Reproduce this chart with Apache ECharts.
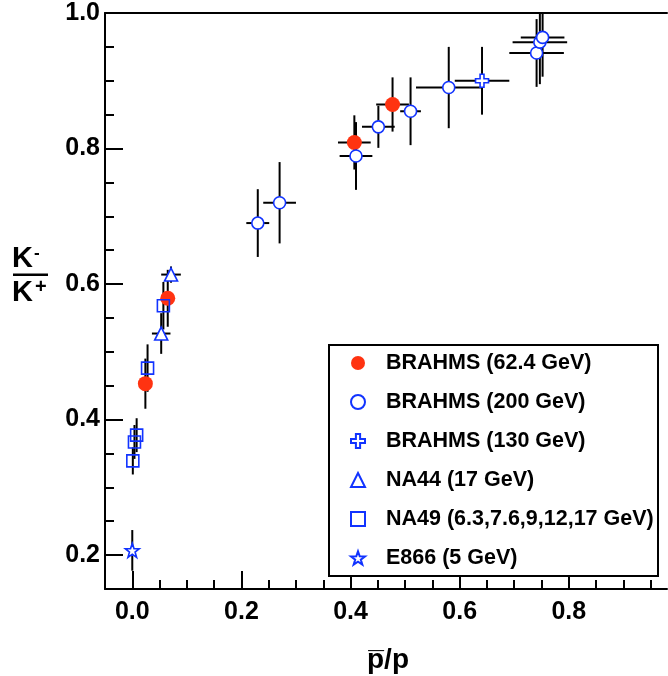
<!DOCTYPE html>
<html>
<head>
<meta charset="utf-8">
<script src="https://cdn.jsdelivr.net/npm/echarts@6/dist/echarts.min.js"></script>
<style>
  html, body { margin: 0; padding: 0; background: #fff; }
  #chart { width: 668px; height: 676px; }
</style>
</head>
<body>
<div id="chart"></div>
<script>
// K-/K+ ratio vs pbar/p

// BRAHMS 62.4 GeV
const brahms62X = [0.024, 0.065, 0.407, 0.477]
const brahms62Y = [0.453, 0.579, 0.809, 0.865]
const brahms62Ex = [0, 0, 0.03, 0.03]
const brahms62Ey = [0.037, 0.042, 0.04, 0.04]

// BRAHMS 200 GeV
const brahms200X = [0.230, 0.270, 0.410, 0.451, 0.510, 0.580, 0.741, 0.747, 0.752]
const brahms200Y = [0.690, 0.720, 0.789, 0.832, 0.855, 0.890, 0.941, 0.957, 0.964]
const brahms200Ex = [0.021, 0.03, 0.03, 0.03, 0.019, 0.06, 0.05, 0.05, 0.04]
const brahms200Ey = [0.05, 0.06, 0.05, 0.031, 0.05, 0.06, 0.05, 0.062, 0.058]

// BRAHMS 130 GeV
const brahms130X = [0.641]
const brahms130Y = [0.900]
const brahms130Ex = [0.05]
const brahms130Ey = [0.05]

// NA44 17 GeV
const na44X = [0.053, 0.071]
const na44Y = [0.527, 0.614]
const na44Ex = [0.017, 0.018]
const na44Ey = [0.03, 0.012]

// NA49 6.3 - 17 GeV
const na49X = [0.001, 0.004, 0.008, 0.028, 0.057]
const na49Y = [0.339, 0.367, 0.377, 0.476, 0.568]
const na49Ex = [0, 0, 0, 0, 0]
const na49Ey = [0.02, 0.025, 0.025, 0.035, 0.035]

// E866 5 GeV
const e866X = [0.0]
const e866Y = [0.207]
const e866Ex = [0]
const e866Ey = [0.03]

// axis ticks
const xTickLabels = [0, 0.2, 0.4, 0.6, 0.8]
const yTickLabels = [0.2, 0.4, 0.6, 0.8, 1.0]

const FONT = '"Liberation Sans", Arial, Helvetica, sans-serif'
const RED = '#ff3311'
const BLUE = '#1133ff'

// minor ticks every 0.05, skipping the major ones
const xMinor = []
for (let i = 1; i <= 19; i++) if (i % 4 !== 0) xMinor.push(+(i * 0.05).toFixed(2))
const yMinor = []
for (let i = 5; i <= 19; i++) if (i % 4 !== 0) yMinor.push(+(i * 0.05).toFixed(2))

const starPath = () => {
  const pts = []
  for (let i = 0; i < 10; i++) {
    const r = i % 2 ? 0.4 : 1
    const a = -Math.PI / 2 + i * Math.PI / 5
    pts.push((10 + 10 * r * Math.cos(a)).toFixed(2) + ',' + (10 + 10 * r * Math.sin(a)).toFixed(2))
  }
  return 'path://M' + pts.join(' L') + ' Z'
}
const crossPath = 'path://M3.5,0 L6.5,0 L6.5,3.5 L10,3.5 L10,6.5 L6.5,6.5 L6.5,10 L3.5,10 L3.5,6.5 L0,6.5 L0,3.5 L3.5,3.5 Z'

const sets = [
  { name: 'BRAHMS (62.4 GeV)', x: brahms62X, y: brahms62Y, ex: brahms62Ex, ey: brahms62Ey, symbol: 'circle', size: 15, fill: RED, stroke: RED },
  { name: 'BRAHMS (200 GeV)', x: brahms200X, y: brahms200Y, ex: brahms200Ex, ey: brahms200Ey, symbol: 'circle', size: 12, fill: '#fff', stroke: BLUE },
  { name: 'BRAHMS (130 GeV)', x: brahms130X, y: brahms130Y, ex: brahms130Ex, ey: brahms130Ey, symbol: crossPath, size: 13, fill: '#fff', stroke: BLUE },
  { name: 'NA44 (17 GeV)', x: na44X, y: na44Y, ex: na44Ex, ey: na44Ey, symbol: 'triangle', size: 13, fill: '#fff', stroke: BLUE },
  { name: 'NA49 (6.3,7.6,9,12,17 GeV)', x: na49X, y: na49Y, ex: na49Ex, ey: na49Ey, symbol: 'rect', size: 12, fill: 'rgba(255,255,255,0)', stroke: BLUE },
  { name: 'E866 (5 GeV)', x: e866X, y: e866Y, ex: e866Ex, ey: e866Ey, symbol: starPath(), size: 14, fill: '#fff', stroke: BLUE }
]

const renderErrors = (params, api) => {
  const x = api.value(0), y = api.value(1), ex = api.value(2), ey = api.value(3)
  const style = { stroke: '#000', lineWidth: 2 }
  const children = []
  if (ey > 0) {
    const a = api.coord([x, y - ey]), b = api.coord([x, y + ey])
    children.push({ type: 'line', shape: { x1: a[0], y1: a[1], x2: b[0], y2: b[1] }, style })
  }
  if (ex > 0) {
    const a = api.coord([x - ex, y]), b = api.coord([x + ex, y])
    children.push({ type: 'line', shape: { x1: a[0], y1: a[1], x2: b[0], y2: b[1] }, style })
  }
  return { type: 'group', children }
}

const errorSeries = sets.map(s => ({
  type: 'custom',
  xAxisIndex: 0,
  yAxisIndex: 0,
  clip: true,
  z: 2,
  silent: true,
  renderItem: renderErrors,
  encode: { x: 0, y: 1 },
  data: s.x.map((v, i) => [v, s.y[i], s.ex[i], s.ey[i]])
}))

const markerSeries = sets.map(s => ({
  type: 'scatter',
  name: s.name,
  xAxisIndex: 0,
  yAxisIndex: 0,
  z: 3,
  symbol: s.symbol,
  symbolSize: s.size,
  itemStyle: { color: s.fill, borderColor: s.stroke, borderWidth: s.fill === RED ? 0 : 1.6, opacity: 1 },
  emphasis: { disabled: true },
  data: s.x.map((v, i) => [v, s.y[i]])
}))

const chart = echarts.init(document.getElementById('chart'), null, { renderer: 'canvas' })

const labelStyle = { fontFamily: FONT, fontSize: 25, fontWeight: 'bold', color: '#000' }
const blackLine = { color: '#000', width: 2 }

chart.setOption({
  animation: false,
  backgroundColor: '#fff',
  textStyle: { fontFamily: FONT },
  grid: { left: 105, top: 13, width: 562, height: 576, outerBoundsMode: 'none' },
  xAxis: [
    {
      type: 'value', min: -0.05, max: 0.98, position: 'bottom',
      axisLine: { show: true, onZero: false, lineStyle: blackLine },
      axisTick: { show: true, inside: true, length: 18, customValues: xTickLabels, lineStyle: blackLine },
      axisLabel: { ...labelStyle, margin: 11, customValues: xTickLabels, formatter: v => v.toFixed(1) },
      splitLine: { show: false }
    },
    {
      type: 'value', min: -0.05, max: 0.98, position: 'bottom',
      axisLine: { show: false, onZero: false },
      axisTick: { show: true, inside: true, length: 9, customValues: xMinor, lineStyle: blackLine },
      axisLabel: { show: false },
      splitLine: { show: false }
    },
    {
      type: 'value', min: -0.05, max: 0.98, position: 'top',
      axisLine: { show: true, onZero: false, lineStyle: blackLine },
      axisTick: { show: false },
      axisLabel: { show: false },
      splitLine: { show: false }
    }
  ],
  yAxis: [
    {
      type: 'value', min: 0.15, max: 1.0, position: 'left',
      axisLine: { show: true, onZero: false, lineStyle: blackLine },
      axisTick: { show: true, inside: true, length: 18, customValues: yTickLabels, lineStyle: blackLine },
      axisLabel: { ...labelStyle, margin: 5, customValues: yTickLabels, formatter: v => v.toFixed(1) },
      splitLine: { show: false }
    },
    {
      type: 'value', min: 0.15, max: 1.0, position: 'left',
      axisLine: { show: false, onZero: false },
      axisTick: { show: true, inside: true, length: 9, customValues: yMinor, lineStyle: blackLine },
      axisLabel: { show: false },
      splitLine: { show: false }
    }
  ],
  legend: {
    orient: 'vertical',
    left: 350,
    top: 351,
    padding: 0,
    itemWidth: 14,
    itemHeight: 14,
    itemGap: 15,
    selectedMode: false,
    z: 5,
    data: sets.map(s => s.name),
    textStyle: { fontFamily: FONT, fontSize: 21.5, fontWeight: 'bold', color: '#000', lineHeight: 24, padding: [0, 0, 0, 16] }
  },
  graphic: [
    { type: 'rect', z: 1, shape: { x: 329, y: 345, width: 329, height: 231 }, style: { fill: '#fff', stroke: '#000', lineWidth: 2 } },
    { type: 'text', x: 12, y: 259, style: { text: 'K', font: 'bold 29px ' + FONT, fill: '#000', verticalAlign: 'middle' } },
    { type: 'text', x: 34, y: 253, style: { text: '-', font: 'bold 17px ' + FONT, fill: '#000', verticalAlign: 'middle' } },
    { type: 'rect', shape: { x: 13, y: 273.5, width: 35, height: 2.5 }, style: { fill: '#000' } },
    { type: 'text', x: 12, y: 293, style: { text: 'K', font: 'bold 29px ' + FONT, fill: '#000', verticalAlign: 'middle' } },
    { type: 'text', x: 35, y: 287, style: { text: '+', font: 'bold 20px ' + FONT, fill: '#000', verticalAlign: 'middle' } },
    { type: 'text', x: 388, y: 660, style: { text: 'p\u0305/p', font: 'bold 28px ' + FONT, fill: '#000', align: 'center', verticalAlign: 'middle' } }
  ],
  series: [...errorSeries, ...markerSeries]
})
</script>
</body>
</html>
